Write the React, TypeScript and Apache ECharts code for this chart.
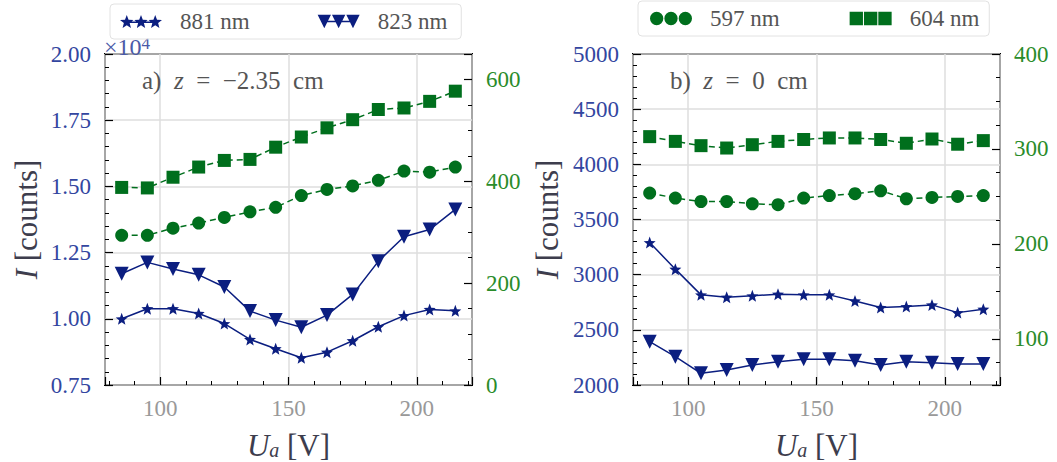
import React, { useEffect, useRef } from 'react';
import * as echarts from 'echarts';

// anode voltage U_a [V]
const U = [85, 95, 105, 115, 125, 135, 145, 155, 165, 175, 185, 195, 205, 215];

// panel a) z = -2.35 cm  (left axis: counts, right axis: counts)
const a881 = [10000, 10380, 10380, 10200, 9820, 9220, 8870, 8530, 8740, 9170, 9700, 10120, 10350, 10300];
const a823 = [11700, 12130, 11880, 11660, 11200, 10290, 9950, 9680, 10140, 10920, 12170, 13100, 13370, 14130];
const a597 = [294, 294, 308, 318, 329, 340, 349, 372, 384, 391, 402, 420, 418, 428];
const a604 = [388, 387, 408, 428, 441, 443, 467, 487, 505, 521, 541, 544, 557, 577];

// panel b) z = 0 cm
const b881 = [3291, 3050, 2817, 2796, 2808, 2823, 2817, 2817, 2762, 2702, 2711, 2726, 2656, 2687];
const b823 = [2393, 2257, 2106, 2136, 2181, 2211, 2233, 2233, 2220, 2181, 2211, 2202, 2190, 2190];
const b597 = [253.6, 248.3, 244.7, 244.7, 242.3, 241.3, 248.3, 251, 252.9, 256, 247.6, 249, 250, 251];
const b604 = [313, 308, 303.5, 301, 304.5, 308, 310, 311.6, 311.6, 310, 306, 310.5, 305, 308.8];

const serif = 'Liberation Serif';
const NAVY = '#0b1e80';
const GREEN = '#006f1d';
const BLUE_LBL = '#3346a0';
const GREEN_LBL = '#2a8c2a';
const TITLE_C = '#3d3d4d';

function starPath(cx: number, cy: number, R: number, r: number) {
  let s = '';
  for (let k = 0; k < 10; k++) {
    const ang = -Math.PI / 2 + (k * Math.PI) / 5;
    const rad = k % 2 ? r : R;
    const x = cx + rad * Math.cos(ang);
    const y = cy + rad * Math.sin(ang);
    s += (k === 0 ? 'M' : 'L') + x.toFixed(3) + ' ' + y.toFixed(3) + ' ';
  }
  return s + 'Z ';
}
const centers = [7, 21, 35];
const bar = 'M7 6.3 L35 6.3 L35 7.7 L7 7.7 Z ';
const STAR = 'path://' + starPath(0, 0, 10, 4.3);
const STAR3 = 'path://' + centers.map((c) => starPath(c, 7, 7, 3)).join('') + bar;
const TRI3 = 'path://' + centers.map((c) => `M${c - 6.5} 0.5 L${c + 6.5} 0.5 L${c} 13.5 Z `).join('') + bar;
const CIR3 =
  'path://' +
  centers.map((c) => `M${c - 6.5} 7 A6.5 6.5 0 1 0 ${c + 6.5} 7 A6.5 6.5 0 1 0 ${c - 6.5} 7 Z `).join('');
const SQ3 = 'path://' + centers.map((c) => `M${c - 6.5} 0.5 L${c + 6.5} 0.5 L${c + 6.5} 13.5 L${c - 6.5} 13.5 Z `).join('');

const tick = { inside: true, length: 8, lineStyle: { color: '#000', width: 1.2 } };
const minor = (n: number) => ({ show: true, splitNumber: n, length: 4, lineStyle: { color: '#000', width: 1 } });
const gridOff = { show: false };
const gridOn = { show: true, lineStyle: { color: '#dedede', width: 1.5 } };

function xAx(gridIndex: number) {
  return {
    type: 'value',
    gridIndex,
    min: 78.5,
    max: 221.5,
    splitNumber: 3,
    name: '{i|U}{s|a}{n| [V]}',
    nameLocation: 'middle',
    nameGap: 45,
    nameTextStyle: {
      fontFamily: serif,
      rich: {
        i: { fontFamily: serif, fontSize: 31, fontStyle: 'italic', color: TITLE_C, lineHeight: 30 },
        s: { fontFamily: serif, fontSize: 20, fontStyle: 'italic', color: TITLE_C, lineHeight: 12, verticalAlign: 'bottom' },
        n: { fontFamily: serif, fontSize: 31, color: TITLE_C, lineHeight: 30 },
      },
    },
    axisLine: { show: false, onZero: false },
    axisTick: tick,
    minorTick: minor(5),
    axisLabel: { color: '#999', fontFamily: serif, fontSize: 23, margin: 12, showMinLabel: false, showMaxLabel: false },
    splitLine: gridOn,
  };
}

function yName(gap: number) {
  return {
    name: '{i|I}{n| [counts]}',
    nameLocation: 'middle',
    nameGap: gap,
    nameTextStyle: {
      fontFamily: serif,
      rich: {
        i: { fontFamily: serif, fontSize: 31, fontStyle: 'italic', color: TITLE_C },
        n: { fontFamily: serif, fontSize: 31, color: TITLE_C },
      },
    },
  };
}

function line(name: string, xi: number, yi: number, xs: number[], ys: number[], kind: string) {
  const isGreen = kind === 'circle' || kind === 'square';
  const color = isGreen ? GREEN : NAVY;
  const base: any = {
    type: 'line',
    name,
    xAxisIndex: xi,
    yAxisIndex: yi,
    data: xs.map((x, i) => [x, ys[i]]),
    lineStyle: { color, width: 1.5, type: isGreen ? [6, 4] : 'solid' },
    itemStyle: { color },
    showSymbol: true,
    z: 3,
  };
  if (kind === 'star') {
    base.symbol = STAR;
    base.symbolSize = 12;
  } else if (kind === 'tri') {
    base.symbol = 'triangle';
    base.symbolRotate = 180;
    base.symbolSize = 14;
  } else if (kind === 'circle') {
    base.symbol = 'circle';
    base.symbolSize = 13;
  } else {
    base.symbol = 'rect';
    base.symbolSize = 13;
  }
  return base;
}

const legendCommon = {
  orient: 'horizontal',
  itemWidth: 42,
  itemHeight: 14,
  backgroundColor: 'rgba(255,255,255,0.8)',
  borderColor: '#e2e2e2',
  borderWidth: 1,
  borderRadius: 4,
  selectedMode: false,
  formatter: '{t|{name}}',
  textStyle: {
    fontFamily: serif,
    fontSize: 23,
    color: '#555',
    padding: [0, 0, 0, 13],
    rich: { t: { fontFamily: serif, fontSize: 23, color: '#555' } },
  },
  z: 10,
};

const gridBase = {
  top: 54,
  bottom: 77,
  show: true,
  borderColor: '#000',
  borderWidth: 2,
  backgroundColor: 'transparent',
  containLabel: false,
  outerBoundsMode: 'none',
};

export default function App() {
  const ref = useRef<HTMLDivElement>(null);
  useEffect(() => {
    if (!ref.current) return;
    const chart = echarts.init(ref.current, undefined, { renderer: 'svg' });
    const option: any = {
      animation: false,
      backgroundColor: '#fff',
      textStyle: { fontFamily: serif },
      grid: [
        { ...gridBase, left: 105, right: 585 },
        { ...gridBase, left: 633, right: 57 },
      ],
      xAxis: [xAx(0), xAx(1)],
      yAxis: [
        {
          type: 'value',
          gridIndex: 0,
          position: 'left',
          min: 7500,
          max: 20000,
          interval: 2500,
          ...yName(63),
          axisLine: { show: false },
          axisTick: tick,
          minorTick: minor(5),
          axisLabel: {
            color: BLUE_LBL,
            fontFamily: serif,
            fontSize: 23,
            margin: 14,
            formatter: (v: number) => (v / 10000).toFixed(2),
          },
          splitLine: gridOn,
        },
        {
          type: 'value',
          gridIndex: 0,
          position: 'right',
          min: 0,
          max: 650,
          interval: 200,
          axisLine: { show: false },
          axisTick: tick,
          minorTick: minor(4),
          axisLabel: { color: GREEN_LBL, fontFamily: serif, fontSize: 23, margin: 14, showMaxLabel: false },
          splitLine: gridOff,
        },
        {
          type: 'value',
          gridIndex: 1,
          position: 'left',
          min: 2000,
          max: 5000,
          interval: 500,
          ...yName(70),
          axisLine: { show: false },
          axisTick: tick,
          minorTick: minor(5),
          axisLabel: {
            color: BLUE_LBL,
            fontFamily: serif,
            fontSize: 23,
            margin: 14,
            formatter: (v: number) => String(v),
          },
          splitLine: gridOn,
        },
        {
          type: 'value',
          gridIndex: 1,
          position: 'right',
          min: 51.5,
          max: 400,
          splitNumber: 4,
          axisLine: { show: false },
          axisTick: tick,
          minorTick: minor(4),
          axisLabel: {
            color: GREEN_LBL,
            fontFamily: serif,
            fontSize: 23,
            margin: 14,
            showMinLabel: false,
            formatter: (v: number) => String(v),
          },
          splitLine: gridOff,
        },
      ],
      legend: [
        {
          ...legendCommon,
          left: 110,
          top: 4,
          itemGap: 68,
          padding: [6, 14, 6, 10],
          data: [
            { name: '881 nm', icon: STAR3 },
            { name: '823 nm', icon: TRI3 },
          ],
        },
        {
          ...legendCommon,
          left: 638,
          top: 1,
          itemGap: 70,
          padding: [6, 10, 6, 12],
          data: [
            { name: '597 nm', icon: CIR3 },
            { name: '604 nm', icon: SQ3 },
          ],
        },
      ],
      graphic: [
        {
          type: 'text',
          x: 104,
          y: 47,
          z: 1,
          style: {
            text: '{n|×10}{s|4}',
            verticalAlign: 'middle',
            rich: {
              n: { fontFamily: serif, fontSize: 24, fill: '#4a5aa8', lineHeight: 24 },
              s: { fontFamily: serif, fontSize: 17, fill: '#4a5aa8', lineHeight: 12, verticalAlign: 'top' },
            },
          },
        },
        {
          type: 'text',
          x: 142,
          y: 80,
          z: 5,
          style: {
            text: '{n|a)  }{i|z}{n|  =  −2.35  cm}',
            verticalAlign: 'middle',
            rich: {
              n: { fontFamily: serif, fontSize: 25, fill: '#555' },
              i: { fontFamily: serif, fontSize: 25, fontStyle: 'italic', fill: '#555' },
            },
          },
        },
        {
          type: 'text',
          x: 670,
          y: 80,
          z: 5,
          style: {
            text: '{n|b)  }{i|z}{n|  =  0  cm}',
            verticalAlign: 'middle',
            rich: {
              n: { fontFamily: serif, fontSize: 25, fill: '#555' },
              i: { fontFamily: serif, fontSize: 25, fontStyle: 'italic', fill: '#555' },
            },
          },
        },
      ],
      series: [
        line('881 nm', 0, 0, U, a881, 'star'),
        line('823 nm', 0, 0, U, a823, 'tri'),
        line('597 nm', 0, 1, U, a597, 'circle'),
        line('604 nm', 0, 1, U, a604, 'square'),
        line('881 nm', 1, 2, U, b881, 'star'),
        line('823 nm', 1, 2, U, b823, 'tri'),
        line('597 nm', 1, 3, U, b597, 'circle'),
        line('604 nm', 1, 3, U, b604, 'square'),
      ],
    };
    chart.setOption(option);
    return () => chart.dispose();
  }, []);
  return <div ref={ref} style={{ position: 'absolute', left: 0, top: 0, width: 1057, height: 462 }} />;
}
